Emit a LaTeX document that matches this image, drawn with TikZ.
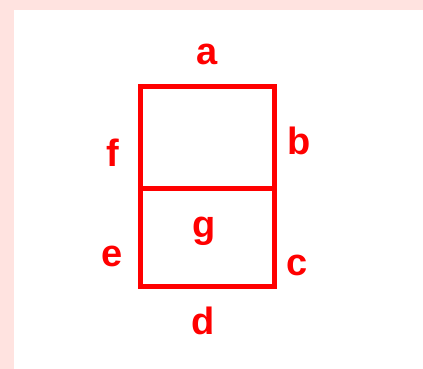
\documentclass[tikz,border=0pt]{standalone}
\usepackage{fontspec}
\setmainfont{Liberation Sans}
\usetikzlibrary{positioning}
\definecolor{segred}{HTML}{FF0000}
\definecolor{segpink}{HTML}{FFE3E0}
\tikzset{
  seg/.style={draw=segred, line width=5pt, line join=miter},
  lbl/.style={text=segred, font=\fontsize{38}{40}\selectfont\bfseries, inner sep=0pt, anchor=base},
}
\begin{document}
\begin{tikzpicture}[x=1pt,y=-1pt]
  % pink frame, white panel
  \fill[segpink] (0,0) rectangle (423,369);
  \fill[white] (14,10) rectangle (423,369);
  \useasboundingbox (0,0) rectangle (423,369);
  % segment corners
  \coordinate (tl) at (140.5,86);
  \coordinate (tr) at (274.5,86);
  \coordinate (ml) at (140.5,188.5);
  \coordinate (mr) at (274.5,188.5);
  \coordinate (bl) at (140.5,286);
  \coordinate (br) at (274.5,286);
  \draw[seg] (tl) -- (tr) -- (br) -- (bl) -- cycle;
  \draw[seg] (ml) -- (mr);
  % segment names
  \node[lbl] (la) at (207.5,65) {a};
  \node[lbl] (lb) at (299,154) {b};
  \node[lbl] (lc) at (297.5,275) {c};
  \node[lbl] (ld) at (203,334) {d};
  \node[lbl] (le) at (112,266.7) {e};
  \node[lbl] (lf) at (113,166.7) {f};
  \node[lbl] (lg) at (204.5,237) {g};
\end{tikzpicture}
\end{document}
